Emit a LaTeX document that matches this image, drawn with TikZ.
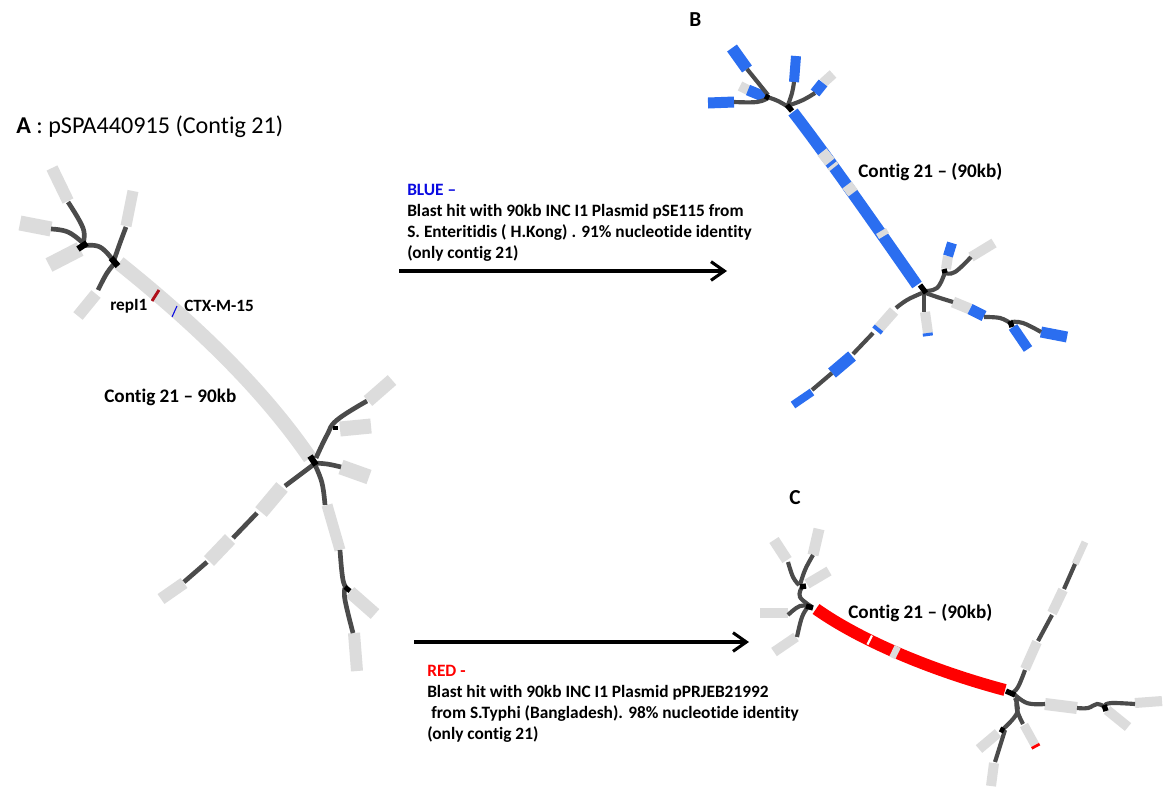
\documentclass[tikz,border=0pt]{standalone}
\usepackage{fontspec}
\setmainfont[Ligatures=CommonOff]{Carlito}
\usetikzlibrary{arrows.meta}
\definecolor{cgrey}{RGB}{220,220,220}
\definecolor{cdark}{RGB}{75,75,75}
\definecolor{cblue}{RGB}{43,110,240}
\definecolor{tblue}{RGB}{10,10,225}
\definecolor{cred}{RGB}{255,0,0}
\definecolor{dred}{RGB}{175,15,25}
\def\dkw{3.5pt}
\def\jnw{4.6pt}
\tikzset{
  gr/.style={draw=cgrey,line width=#1*0.75pt},
  bl/.style={draw=cblue,line width=#1*0.75pt},
  rd/.style={draw=cred,line width=#1*0.75pt},
  dk/.style={draw=cdark,line width=\dkw},
  jn/.style={draw=black,line width=\jnw},
  lab/.style={font=\fontsize{12.9}{15}\selectfont\bfseries,inner sep=0pt,anchor=west,text=black},
  labbig/.style={lab,font=\fontsize{14.4}{17}\selectfont\bfseries},
  labsm/.style={lab,font=\fontsize{13}{15}\selectfont\bfseries},
  lett/.style={lab,font=\fontsize{16}{18}\selectfont\bfseries},
  big/.style={font=\fontsize{18.1}{21}\selectfont,inner sep=0pt,anchor=west,text=black},
  bigarrow/.style={draw=black,line width=2.5pt,-{Straight Barb[length=10pt,width=14pt,line width=2.3pt]}},
}
\newcommand\dkc[1]{\draw[dk] plot[smooth,tension=.7] coordinates {#1};}
\begin{document}
\begin{tikzpicture}[x=0.75pt,y=-0.75pt]
\useasboundingbox (0,0) rectangle (1166,786);
\fill[white] (0,0) rectangle (1166,786);
% ===== Panel A =====
\draw[gr=14.5] (119,263) .. controls (190,320) and (260,385) .. (310,458);
\draw[gr=12] (52,168) -- (68,201);
\draw[gr=15] (20,223) -- (51,229);
\draw[gr=15] (49,265) -- (80,249);
\draw[gr=11] (133,191) -- (126,226);
\draw[gr=12] (78,316) -- (96,294);
\draw[gr=13] (368,401) -- (392,380);
\draw[gr=15] (340,429) -- (371,426);
\draw[gr=15] (341,467) -- (369,477);
\draw[gr=11] (327,505) -- (340,550);
\draw[gr=13] (350,592) -- (375,614);
\draw[gr=12] (354,633) -- (357,671);
\draw[gr=15] (282,487) -- (261,512);
\draw[gr=14] (209,561) -- (230,539);
\draw[gr=12] (161,599) -- (184,583);
\draw[draw=dred,line width=2.2pt] (152,301) -- (159,290);
\draw[draw=tblue,line width=0.8pt] (172,317) -- (177,306);
\dkc{(115,263) (100,247) (82,246)}
\dkc{(83,243) (83,228) (68,202)}
\dkc{(51,229) (68,232) (83,243)}
\dkc{(126,227) (120,243) (113,263)}
\dkc{(115,263) (107,273) (98,290)}
\draw[jn] (111,258) -- (118,266);
\draw[jn] (78,249) -- (87,243);
\dkc{(367,401) (337,420) (327,435) (316,458)}
\dkc{(313,463) (327,464) (341,467)}
\dkc{(315,465) (322,483) (325,505)}
\dkc{(285,486) (297,477) (313,465)}
\dkc{(257,513) (233,538)}
\dkc{(207,562) (184,582)}
\dkc{(340,550) (343,580) (348,590)}
\dkc{(345,588) (345,600) (353,633)}
\draw[jn] (310,456) -- (316,465);
\draw[jn,line width=3.6pt] (333,428) -- (338,428);
\draw[jn,line width=3.6pt] (345,587) -- (350,591);
% ===== Panel B =====
\def\dkw{3.1pt}
\def\jnw{4pt}
\draw[bl=11.5] (793,112) .. controls (830,160) and (880,232) .. (917,285);
\draw[gr=11.5] (822,152) -- (830,162);
\draw[gr=11.5] (832,165) -- (834,167.5);
\draw[gr=11.5] (847,185) -- (853,193);
\draw[gr=11.5] (881,231) -- (884,236);
\draw[bl=12] (732,48) -- (747,69);
\draw[bl=11] (708,103) -- (734,102);
\draw[gr=10] (740,86) -- (748,90);
\draw[bl=11] (748,90) -- (765,97);
\draw[bl=10] (796,56) -- (794,82);
\draw[gr=10] (823,83) -- (833,74);
\draw[bl=11] (815,93) -- (823,83);
\draw[gr=10] (971,257) -- (994,243);
\draw[gr=10] (946,269) -- (948,256);
\draw[bl=10] (948,256) -- (952,243);
\draw[gr=11] (953,302) -- (970,309);
\draw[bl=11] (970,309) -- (984,316);
\draw[bl=10] (1013,327) -- (1028,349);
\draw[bl=11] (1041,332) -- (1067,337);
\draw[gr=10] (925,312) -- (928,333);
\draw[bl=10] (927.6,333) -- (928,336);
\draw[gr=11] (879,328) -- (894,311);
\draw[bl=11] (876.5,331) -- (879,328);
\draw[bl=12] (832,373) -- (852,356);
\draw[bl=8] (793,405) -- (812,392);
\dkc{(790,108) (778,101) (767,97)}
\dkc{(788,105) (792,93) (794,82)}
\dkc{(790,105) (803,100) (815,93)}
\dkc{(768,95) (747,69)}
\dkc{(734,102) (757,102) (768,98)}
\draw[jn] (787,105) -- (792,111);
\draw[jn] (765,96) -- (769,98);
\dkc{(923,291) (937,288) (945,272)}
\dkc{(945,273) (955,272) (971,257)}
\dkc{(923,292) (937,297) (953,302)}
\dkc{(924,292) (924,312)}
\dkc{(922,293) (907,300) (896,308)}
\dkc{(873,333) (853,354)}
\dkc{(832,373) (812,390)}
\dkc{(984,317) (1000,318) (1010,323)}
\dkc{(1011,322) (1023,323) (1041,332)}
\draw[jn] (920,285) -- (926,293);
\draw[jn] (944,269) -- (945,273);
\draw[jn] (1010,321) -- (1012,327);
% ===== Panel C =====
\draw[rd=12] (816,609) .. controls (860,640) and (930,670) .. (1005,690);
\draw[draw=white,line width=1.6pt] (872,635.5) -- (867.5,644.5);
\draw[gr=12.5] (892,650.7) -- (898,653.6);
\draw[gr=11] (774,540) -- (787,560);
\draw[gr=11] (819,529) -- (813,555);
\draw[gr=10] (807,584) -- (829,571);
\draw[gr=10] (760,613) -- (788,613);
\draw[gr=10] (774,652) -- (796,637);
\draw[gr=7] (1085,542) -- (1075,564);
\draw[gr=10] (1063,590) -- (1052,613);
\draw[gr=10] (1037,642) -- (1025,669);
\draw[gr=12] (1045,704) -- (1077,708);
\draw[gr=10] (1135,703) -- (1162,701);
\draw[gr=10] (1107,710) -- (1128,727);
\draw[gr=9] (1024,725) -- (1035,745);
\draw[rd=9] (1035,745) -- (1036.3,747.4);
\draw[gr=10] (979,749) -- (998,733);
\draw[gr=10] (994,763) -- (991,786);
\dkc{(802,587) (800,597) (812,607)}
\dkc{(799,585) (793,577) (788,562)}
\dkc{(800,585) (805,570) (813,555)}
\dkc{(812,607) (800,606) (788,615)}
\dkc{(808,607) (802,617) (797,637)}
\draw[jn] (806,606) -- (813,608);
\draw[jn] (800,587) -- (806,586);
\dkc{(1025,670) (1018,687) (1012,693)}
\dkc{(1013,693) (1027,703) (1045,704)}
\dkc{(1017,698) (1017,710) (1023,724)}
\dkc{(1015,698) (1017,713) (1002,730)}
\dkc{(1005,730) (995,762)}
\dkc{(1075,564) (1064,589)}
\dkc{(1052,615) (1038,641)}
\dkc{(1077,708) (1088,708) (1097,704) (1105,707)}
\dkc{(1105,705) (1112,703) (1135,704)}
\draw[jn] (1006,691) -- (1015,695);
\draw[jn] (1000,729) -- (1004,731);
\draw[jn] (1104,705) -- (1106,711);
% ===== Arrows =====
\coordinate (arrAs) at (399,271);
\coordinate (arrAe) at (727,271);
\coordinate (arrBs) at (414,642);
\coordinate (arrBe) at (749,642);
\draw[bigarrow] (arrAs) -- (arrAe);
\draw[bigarrow] (arrBs) -- (arrBe);
% ===== Labels =====
\node[big] (tA) at (16,127) {\textbf{A} : pSPA440915 (Contig 21)};
\node[lett] (tB) at (689,20) {B};
\node[lett] (tC) at (789,498) {C};
\node[lab] (l1) at (110,306) {repI1};
\node[lab] (l2) at (184,306) {CTX-M-15};
\node[labbig] (l3) at (104,397) {Contig 21 – 90kb};
\node[labbig] (l4) at (858,172) {Contig 21 – (90kb)};
\node[labbig] (l5) at (848,613) {Contig 21 – (90kb)};
\node[labsm,text=tblue] (b0) at (407,190) {BLUE –};
\node[labsm] (b1) at (407,212) {Blast hit with 90kb INC I1 Plasmid pSE115 from};
\node[labsm] (b2) at (407,233) {S. Enteritidis ( H.Kong) . 91\% nucleotide identity};
\node[labsm] (b3) at (407,254) {(only contig 21)};
\node[labsm,text=cred] (r0) at (427,671) {RED -};
\node[labsm] (r1) at (427,693) {Blast hit with 90kb INC I1 Plasmid pPRJEB21992};
\node[labsm] (r2) at (431,714) {from S.Typhi (Bangladesh). 98\% nucleotide identity};
\node[labsm] (r3) at (427,735) {(only contig 21)};
\end{tikzpicture}
\end{document}
